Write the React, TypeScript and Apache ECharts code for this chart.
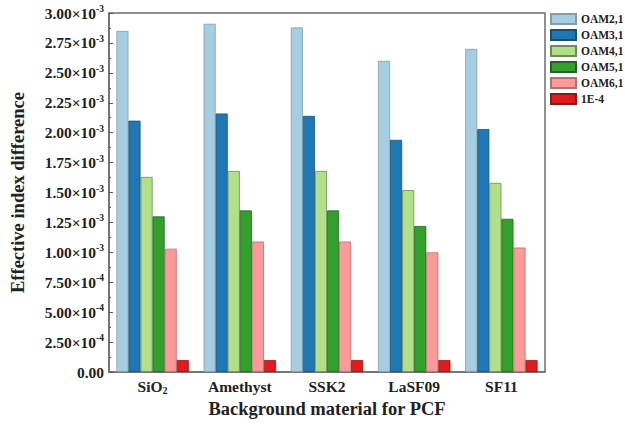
import React, { useEffect, useRef } from "react";
import * as echarts from "echarts";

// Background materials on the x axis
const materials = ["SiO2", "Amethyst", "SSK2", "LaSF09", "SF11"];

// Effective index difference per mode (units of 1e-3)
const oam21 = [2.85, 2.91, 2.88, 2.6, 2.7];
const oam31 = [2.1, 2.16, 2.14, 1.94, 2.03];
const oam41 = [1.63, 1.68, 1.68, 1.52, 1.58];
const oam51 = [1.3, 1.35, 1.35, 1.22, 1.28];
const oam61 = [1.03, 1.09, 1.09, 1.0, 1.04];
const ref1e4 = [0.1, 0.1, 0.1, 0.1, 0.1];

const seriesNames = ["OAM2,1", "OAM3,1", "OAM4,1", "OAM5,1", "OAM6,1", "1E-4"];
const seriesValues = [oam21, oam31, oam41, oam51, oam61, ref1e4];
const seriesColors = ["#a6cee3", "#1f78b4", "#b2df8a", "#33a02c", "#fb9a99", "#e31a1c"];
const seriesBorders = ["#8a9aa3", "#1a4f74", "#6e8a58", "#25602a", "#b07270", "#8a1a1a"];

const FONT = "'Liberation Serif', 'Times New Roman', serif";

function yLabel(v: number): string {
  if (v === 0) return "{m|0.00}";
  const e = v >= 0.001 - 1e-12 ? -3 : -4;
  const mant = v / Math.pow(10, e);
  return `{m|${mant.toFixed(2)}×10}{s|${e}}`;
}

export default function App() {
  const ref = useRef<HTMLDivElement>(null);
  useEffect(() => {
    if (!ref.current) return;
    const chart = echarts.init(ref.current, undefined, { renderer: "svg" });
    chart.setOption({
      animation: false,
      backgroundColor: "#ffffff",
      textStyle: { fontFamily: FONT },
      grid: {
        left: 100,
        right: 80,
        top: 13,
        bottom: 52,
        show: true,
        borderColor: "#6e6e6e",
        borderWidth: 1.5,
      },
      legend: {
        orient: "vertical",
        left: 550,
        top: 13,
        padding: 0,
        itemWidth: 25,
        itemHeight: 10,
        itemGap: 4,
        icon: "rect",
        textStyle: { fontFamily: FONT, fontWeight: "bold", fontSize: 11.5, color: "#222" },
        data: seriesNames,
      },
      xAxis: {
        type: "category",
        data: materials,
        axisLine: { show: true, lineStyle: { color: "#6e6e6e", width: 1.5 } },
        axisTick: { show: false },
        axisLabel: {
          interval: 0,
          margin: 6,
          formatter: (v: string) =>
            v === "SiO2" ? "{m|SiO}{b|2}" : `{m|${v}}`,
          rich: {
            m: { fontFamily: FONT, fontWeight: "bold", fontSize: 15.5, color: "#222" },
            b: {
              fontFamily: FONT,
              fontWeight: "bold",
              fontSize: 10,
              color: "#222",
              padding: [7, 0, 0, 0],
            },
          },
        },
        name: "Background material for PCF",
        nameLocation: "middle",
        nameGap: 25,
        nameTextStyle: { fontFamily: FONT, fontWeight: "bold", fontSize: 18.5, color: "#222" },
      },
      yAxis: {
        type: "value",
        min: 0,
        max: 0.003,
        interval: 0.00025,
        splitLine: { show: false },
        axisLine: { show: true, lineStyle: { color: "#6e6e6e", width: 1.5 } },
        axisTick: { show: true, inside: true, length: 4, lineStyle: { color: "#555" } },
        minorTick: { show: true, splitNumber: 2, length: 2, lineStyle: { color: "#555" } },
        axisLabel: {
          margin: 5,
          formatter: (v: number) => yLabel(v),
          rich: {
            m: { fontFamily: FONT, fontWeight: "bold", fontSize: 15.5, color: "#222" },
            s: {
              fontFamily: FONT,
              fontWeight: "bold",
              fontSize: 9.5,
              color: "#222",
              padding: [0, 0, 8, 0],
            },
          },
        },
        name: "Effective index difference",
        nameLocation: "middle",
        nameGap: 82,
        nameTextStyle: { fontFamily: FONT, fontWeight: "bold", fontSize: 18.5, color: "#222" },
      },
      series: seriesNames.map((name, i) => ({
        name,
        type: "bar",
        barGap: "0%",
        barCategoryGap: "17%",
        data: seriesValues[i].map((v) => v * 1e-3),
        itemStyle: {
          color: seriesColors[i],
          borderColor: seriesBorders[i],
          borderWidth: 0.8,
        },
      })),
    });
    return () => chart.dispose();
  }, []);
  return (
    <div
      ref={ref}
      style={{ position: "fixed", left: 0, top: 0, width: 625, height: 424 }}
    />
  );
}
